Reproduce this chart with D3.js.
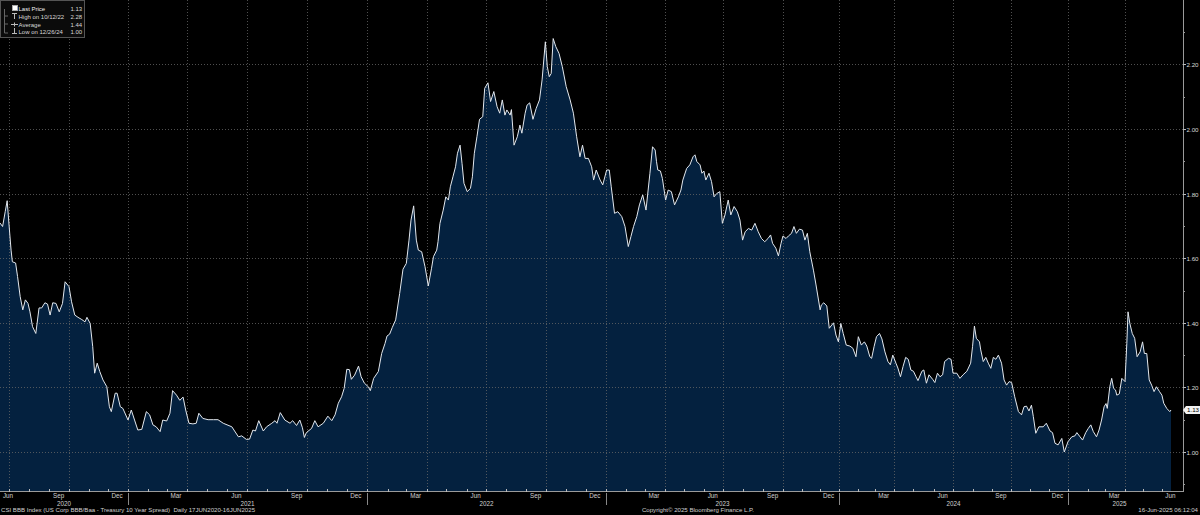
<!DOCTYPE html>
<html><head><meta charset="utf-8">
<script src="https://cdn.jsdelivr.net/npm/d3@7"></script>
<style>html,body{margin:0;padding:0;background:#000;overflow:hidden}</style>
</head><body><svg id="c" width="1200" height="515"></svg>
<script>
// ---------------- DATA ----------------
const dates = [
"2020-06-17","2020-06-21","2020-06-25","2020-06-28","2020-07-01","2020-07-04","2020-07-06","2020-07-11","2020-07-14","2020-07-18",
"2020-07-22","2020-07-26","2020-07-30","2020-08-02","2020-08-06","2020-08-11","2020-08-16","2020-08-20","2020-08-25","2020-08-29",
"2020-09-02","2020-09-06","2020-09-11","2020-09-16","2020-09-21","2020-09-25","2020-10-01","2020-10-05","2020-10-10","2020-10-15",
"2020-10-21","2020-10-26","2020-10-29","2020-11-03","2020-11-07","2020-11-10","2020-11-14","2020-11-18","2020-11-23","2020-11-29",
"2020-12-03","2020-12-06","2020-12-12","2020-12-15","2020-12-20","2020-12-24",
"2021-01-01","2021-01-06","2021-01-11","2021-01-16","2021-01-22","2021-01-29","2021-02-03","2021-02-08","2021-02-13","2021-02-19",
"2021-02-23","2021-03-01","2021-03-06","2021-03-10","2021-03-16","2021-03-21","2021-03-26","2021-03-30","2021-04-04","2021-04-10",
"2021-04-15","2021-04-19","2021-04-25","2021-05-03","2021-05-11","2021-05-18","2021-05-26","2021-06-08","2021-06-18","2021-06-23",
"2021-06-30","2021-07-05","2021-07-10","2021-07-14","2021-07-19","2021-07-26","2021-07-31","2021-08-08","2021-08-13","2021-08-16",
"2021-08-21","2021-08-28","2021-09-05","2021-09-09","2021-09-15","2021-09-20","2021-09-24","2021-09-27","2021-09-30","2021-10-08",
"2021-10-13","2021-10-18","2021-10-26","2021-11-02","2021-11-08","2021-11-13","2021-11-18","2021-11-23","2021-11-27","2021-12-01",
"2021-12-05","2021-12-08","2021-12-13","2021-12-19","2021-12-23","2021-12-28",
"2022-01-03","2022-01-06","2022-01-11","2022-01-18","2022-01-23","2022-01-28","2022-01-31","2022-02-04","2022-02-08","2022-02-13",
"2022-02-19","2022-02-24","2022-03-01","2022-03-05","2022-03-08","2022-03-12","2022-03-16","2022-03-19","2022-03-24","2022-03-29",
"2022-04-03","2022-04-08","2022-04-11","2022-04-16","2022-04-18","2022-04-21","2022-04-26","2022-04-30","2022-05-04","2022-05-07",
"2022-05-11","2022-05-15","2022-05-18","2022-05-22","2022-05-25","2022-05-28","2022-06-02","2022-06-07","2022-06-10","2022-06-13",
"2022-06-17","2022-06-21","2022-06-26","2022-06-29","2022-07-04","2022-07-08","2022-07-13","2022-07-18","2022-07-22","2022-07-26",
"2022-07-30","2022-08-02","2022-08-07","2022-08-09","2022-08-13","2022-08-18","2022-08-22","2022-08-25","2022-08-30","2022-09-02",
"2022-09-06","2022-09-11","2022-09-16","2022-09-21","2022-09-25","2022-09-30","2022-10-03","2022-10-06","2022-10-09","2022-10-12",
"2022-10-16","2022-10-21","2022-10-26","2022-11-01","2022-11-07","2022-11-12","2022-11-17","2022-11-22","2022-11-26","2022-11-30",
"2022-12-05","2022-12-10","2022-12-13","2022-12-17","2022-12-23","2022-12-27",
"2023-01-02","2023-01-06","2023-01-09","2023-01-14","2023-01-19","2023-01-25","2023-01-30","2023-02-04","2023-02-08","2023-02-12",
"2023-02-17","2023-02-21","2023-02-26","2023-03-03","2023-03-09","2023-03-13","2023-03-17","2023-03-19","2023-03-21","2023-03-25",
"2023-03-28","2023-04-02","2023-04-06","2023-04-11","2023-04-16","2023-04-22","2023-04-26","2023-04-29","2023-05-05","2023-05-10",
"2023-05-15","2023-05-18","2023-05-21","2023-05-26","2023-05-29","2023-06-01","2023-06-04","2023-06-09","2023-06-13","2023-06-17",
"2023-06-21","2023-06-26","2023-06-30","2023-07-04","2023-07-09","2023-07-13","2023-07-18","2023-07-23","2023-07-27","2023-07-31",
"2023-08-04","2023-08-09","2023-08-14","2023-08-19","2023-08-24","2023-08-29","2023-09-03","2023-09-08","2023-09-12","2023-09-15",
"2023-09-20","2023-09-24","2023-09-28","2023-10-01","2023-10-06","2023-10-10","2023-10-15","2023-10-19","2023-10-23","2023-10-28",
"2023-11-02","2023-11-06","2023-11-10","2023-11-14","2023-11-20","2023-11-24","2023-12-01","2023-12-03","2023-12-07","2023-12-12",
"2023-12-16","2023-12-23","2023-12-27","2023-12-31",
"2024-01-04","2024-01-08","2024-01-13","2024-01-19","2024-01-24","2024-01-29","2024-02-02","2024-02-07","2024-02-12","2024-02-16",
"2024-02-21","2024-02-24","2024-02-28","2024-03-03","2024-03-08","2024-03-12","2024-03-17","2024-03-22","2024-03-26","2024-03-30",
"2024-04-04","2024-04-07","2024-04-11","2024-04-15","2024-04-19","2024-04-23","2024-04-27","2024-05-01","2024-05-05","2024-05-08",
"2024-05-14","2024-05-17","2024-05-21","2024-05-25","2024-05-31","2024-06-03","2024-06-07","2024-06-11","2024-06-15","2024-06-18",
"2024-06-24","2024-06-28","2024-07-01","2024-07-07","2024-07-12","2024-07-17","2024-07-23","2024-07-29","2024-08-01","2024-08-04",
"2024-08-07","2024-08-12","2024-08-14","2024-08-18","2024-08-22","2024-08-26","2024-08-30","2024-09-03","2024-09-07","2024-09-11",
"2024-09-16","2024-09-20","2024-09-24","2024-09-28","2024-10-02","2024-10-07","2024-10-13","2024-10-18","2024-10-22","2024-10-26",
"2024-10-30","2024-11-03","2024-11-06","2024-11-10","2024-11-15","2024-11-22","2024-11-27","2024-12-03","2024-12-07","2024-12-11",
"2024-12-16","2024-12-22","2024-12-26",
"2025-01-01","2025-01-07","2025-01-12","2025-01-15","2025-01-20","2025-01-24","2025-01-29","2025-02-02","2025-02-06","2025-02-10",
"2025-02-15","2025-02-19","2025-02-23","2025-02-27","2025-03-02","2025-03-04","2025-03-08","2025-03-11","2025-03-14","2025-03-17",
"2025-03-19","2025-03-23","2025-03-27","2025-04-01","2025-04-04","2025-04-06","2025-04-09","2025-04-13","2025-04-17","2025-04-21",
"2025-04-26","2025-04-30","2025-05-03","2025-05-07","2025-05-11","2025-05-15","2025-05-19","2025-05-23","2025-05-28","2025-06-01",
"2025-06-04","2025-06-09","2025-06-14","2025-06-16"
];
const spread = [
1.709,1.698,1.744,1.778,1.70,1.625,1.589,1.585,1.543,1.481,
1.44,1.471,1.46,1.434,1.388,1.367,1.446,1.446,1.462,1.458,
1.424,1.462,1.46,1.434,1.46,1.527,1.512,1.465,1.424,1.417,
1.41,1.403,1.417,1.398,1.326,1.244,1.275,1.249,1.223,1.202,
1.14,1.125,1.182,1.182,1.14,1.135,
1.099,1.13,1.099,1.068,1.07,1.125,1.115,1.084,1.078,1.063,
1.099,1.096,1.12,1.19,1.176,1.16,1.17,1.13,1.089,1.087,
1.089,1.12,1.104,1.10,1.10,1.10,1.089,1.078,1.047,1.05,
1.039,1.04,1.068,1.065,1.097,1.065,1.078,1.089,1.097,1.089,
1.122,1.099,1.089,1.097,1.082,1.099,1.075,1.045,1.06,1.073,
1.097,1.078,1.089,1.111,1.097,1.115,1.151,1.171,1.197,1.256,
1.255,1.225,1.238,1.266,1.233,1.213,
1.202,1.19,1.228,1.249,1.305,1.336,1.359,1.365,1.386,1.409,
1.491,1.566,1.584,1.656,1.718,1.762,1.656,1.625,1.62,1.574,
1.514,1.569,1.605,1.625,1.651,1.708,1.749,1.79,1.78,1.821,
1.852,1.883,1.925,1.95,1.894,1.832,1.806,1.816,1.852,1.925,
1.976,2.03,2.038,2.126,2.143,2.085,2.116,2.069,2.049,2.09,
2.043,2.059,2.043,2.06,1.95,1.976,2.012,1.987,2.049,2.074,
2.081,2.03,2.064,2.09,2.152,2.27,2.193,2.162,2.172,2.28,
2.255,2.234,2.193,2.131,2.09,2.049,1.976,1.914,1.95,1.909,
1.909,1.883,1.842,1.873,1.842,1.827,
1.873,1.873,1.821,1.739,1.744,1.729,1.698,1.636,1.667,1.698,
1.729,1.765,1.796,1.749,1.863,1.945,1.935,1.90,1.873,1.87,
1.847,1.78,1.811,1.806,1.765,1.79,1.811,1.842,1.878,1.889,
1.914,1.92,1.899,1.889,1.863,1.87,1.842,1.863,1.837,1.79,
1.80,1.806,1.708,1.734,1.78,1.734,1.76,1.744,1.718,1.656,
1.682,1.692,1.687,1.708,1.682,1.661,1.651,1.661,1.672,1.646,
1.631,1.607,1.646,1.669,1.661,1.669,1.677,1.698,1.677,1.69,
1.687,1.656,1.677,1.62,1.563,1.52,1.44,1.455,1.462,1.452,
1.383,1.40,1.362,1.341,
1.398,1.367,1.331,1.328,1.321,1.295,1.357,1.331,1.341,1.328,
1.295,1.29,1.326,1.357,1.367,1.35,1.31,1.28,1.27,1.30,
1.275,1.26,1.233,1.265,1.293,1.287,1.254,1.25,1.233,1.221,
1.25,1.254,1.213,1.239,1.224,1.215,1.244,1.233,1.239,1.28,
1.29,1.287,1.244,1.244,1.228,1.239,1.25,1.275,1.326,1.39,
1.352,1.341,1.316,1.28,1.293,1.275,1.259,1.293,1.287,1.30,
1.275,1.223,1.207,1.218,1.215,1.171,1.125,1.115,1.14,1.142,
1.127,1.145,1.11,1.058,1.078,1.078,1.089,1.065,1.06,1.027,
1.022,1.042,1.00,
1.032,1.047,1.05,1.06,1.047,1.037,1.06,1.073,1.084,1.063,
1.047,1.068,1.099,1.14,1.15,1.135,1.202,1.228,1.197,1.192,
1.176,1.18,1.228,1.218,1.336,1.434,1.398,1.367,1.352,1.295,
1.31,1.341,1.305,1.305,1.223,1.207,1.187,1.202,1.187,1.176,
1.151,1.135,1.125,1.13
];
const yTicks = [1.00, 1.20, 1.40, 1.60, 1.80, 2.00, 2.20];
const yMinorTicks = [0.90, 1.10, 1.30, 1.50, 1.70, 1.90, 2.10, 2.30];
const shownMonths = ["Mar", "Jun", "Sep", "Dec"];
const legendLabels = ["Last Price", "High on 10/12/22", "Average", "Low on 12/26/24"];
const legendValues = ["1.13", "2.28", "1.44", "1.00"];
const lastPrice = 1.13;
const footerLeft = "CSI BBB Index (US Corp BBB/Baa - Treasury 10 Year Spread)  Daily 17JUN2020-16JUN2025";
const footerMid = "Copyright\u00A9 2025 Bloomberg Finance L.P.";
const footerRight = "16-Jun-2025 06:12:04";

// ---------------- LAYOUT ----------------
const parse = d3.timeParse("%Y-%m-%d");
const data = dates.map((d, i) => ({ date: parse(d), value: spread[i] }));
const plotRight = 1183, axisY = 491;
const FONT = "'Liberation Sans', Arial, sans-serif";
// time axis calibration (Bloomberg's trading-day spacing), quarter anchors
const calibDates = ["2020-06-17","2020-10-01","2021-01-01","2021-04-01","2021-07-01","2021-10-01","2022-01-01",
  "2022-04-01","2022-07-01","2022-10-01","2023-01-01","2023-04-01","2023-07-01","2023-10-01","2024-01-01",
  "2024-04-01","2024-07-01","2024-10-01","2025-01-01","2025-04-01","2025-06-16"].map(parse);
const calibPx = [0,69,128,187,247,307,367,427,486,546,606,665,723,783,839,894,953,1011,1068,1125,1171];
const x = d3.scaleTime().domain(calibDates).range(calibPx);
const y = d3.scaleLinear().domain([1.0, 2.2]).range([452, 64.4]);
const startD = calibDates[0], endD = calibDates[calibDates.length - 1];

const svg = d3.select("#c");
svg.append("rect").attr("width", 1200).attr("height", 515).attr("fill", "#000");

// area
svg.append("path").datum(data)
  .attr("d", d3.area().x(d => x(d.date)).y0(axisY).y1(d => y(d.value)))
  .attr("fill", "#04213f");

// grid
const grid = svg.append("g").attr("stroke", "#6a6a6a").attr("stroke-opacity", 0.75)
  .attr("stroke-dasharray", "1,2").attr("stroke-width", 1);
yTicks.forEach(v => grid.append("line").attr("x1", 0).attr("x2", plotRight)
  .attr("y1", Math.round(y(v)) + 0.5).attr("y2", Math.round(y(v)) + 0.5));
d3.timeMonth.every(3).range(d3.timeDay.offset(startD, 1), endD).forEach(d => {
  const xx = Math.round(x(d)) + 0.5;
  grid.append("line").attr("x1", xx).attr("x2", xx).attr("y1", 0).attr("y2", axisY);
});

// line
svg.append("path").datum(data)
  .attr("d", d3.line().x(d => x(d.date)).y(d => y(d.value)))
  .attr("fill", "none").attr("stroke", "#e3e8ee").attr("stroke-width", 1)
  .attr("stroke-linejoin", "round");

// right axis
const ra = svg.append("g");
ra.append("line").attr("x1", plotRight + 0.5).attr("x2", plotRight + 0.5).attr("y1", 0).attr("y2", axisY)
  .attr("stroke", "#9a9a9a");
yTicks.forEach(v => {
  const yy = Math.round(y(v)) + 0.5;
  ra.append("line").attr("x1", plotRight).attr("x2", plotRight + 3).attr("y1", yy).attr("y2", yy).attr("stroke", "#bbb");
  ra.append("text").attr("x", plotRight + 3.5).attr("y", yy + 2.3).text(d3.format(".2f")(v))
    .attr("font-family", FONT).attr("font-size", 6.2).attr("fill", "#d8d8d8");
});
yMinorTicks.forEach(v => {
  const yy = Math.round(y(v)) + 0.5;
  ra.append("line").attr("x1", plotRight).attr("x2", plotRight + 2).attr("y1", yy).attr("y2", yy).attr("stroke", "#999");
});
// last price tag
const ly = y(lastPrice);
ra.append("path").attr("d", `M${plotRight},${ly} L${plotRight + 3},${ly - 4} L1200,${ly - 4} L1200,${ly + 4} L${plotRight + 3},${ly + 4} Z`)
  .attr("fill", "#f2f2f2");
ra.append("text").attr("x", plotRight + 4).attr("y", ly + 2.3).text(lastPrice.toFixed(2))
  .attr("font-family", FONT).attr("font-size", 6.2).attr("fill", "#000");

// bottom axis
const ba = svg.append("g");
ba.append("line").attr("x1", 0).attr("x2", plotRight + 1).attr("y1", axisY + 0.5).attr("y2", axisY + 0.5).attr("stroke", "#9a9a9a");
d3.timeMonth.range(d3.timeDay.offset(startD, 1), endD).forEach(d => {
  const xx = Math.round(x(d)) + 0.5;
  ba.append("line").attr("x1", xx).attr("x2", xx).attr("y1", axisY - 2).attr("y2", axisY + 1).attr("stroke", "#bbb");
});
const fmtMonth = d3.timeFormat("%b");
d3.timeMonth.range(d3.timeMonth.floor(startD), endD).forEach(d => {
  const m = fmtMonth(d);
  if (!shownMonths.includes(m)) return;
  let xx = x(d3.timeDay.offset(d, 14));
  xx = Math.max(8, Math.min(1172, xx));
  ba.append("text").attr("x", xx).attr("y", axisY + 6.8).attr("text-anchor", "middle").text(m)
    .attr("font-family", FONT).attr("font-size", 6.3).attr("fill", "#d0d0d0");
});
d3.timeYear.range(d3.timeYear.floor(startD), endD).forEach(d => {
  const a = Math.max(0, x(d)), b = Math.min(calibPx[calibPx.length - 1], x(d3.timeYear.offset(d, 1)));
  ba.append("text").attr("x", (a + b) / 2).attr("y", axisY + 14.5).attr("text-anchor", "middle").text(d.getFullYear())
    .attr("font-family", FONT).attr("font-size", 6.3).attr("fill", "#d0d0d0");
  if (d > startD) {
    const xx = Math.round(x(d)) + 0.5;
    ba.append("line").attr("x1", xx).attr("x2", xx).attr("y1", axisY + 2).attr("y2", axisY + 14).attr("stroke", "#888");
  }
});

// footer
const ft = svg.append("g").attr("font-family", FONT).attr("font-size", 6.1).attr("fill", "#d0d0d0");
ft.append("text").attr("x", 1).attr("y", 512).text(footerLeft).style("white-space", "pre");
ft.append("text").attr("x", 698).attr("y", 512).attr("text-anchor", "middle").text(footerMid);
ft.append("text").attr("x", 1198).attr("y", 512).attr("text-anchor", "end").text(footerRight);

// legend
const lg = svg.append("g");
lg.append("rect").attr("x", 0.5).attr("y", 0.5).attr("width", 84).attr("height", 37)
  .attr("fill", "#0b0b0b").attr("stroke", "#555");
lg.append("path").attr("d", "M4.5,9 V33 M4.5,16 H8 M4.5,24 H8 M4.5,33 H8").attr("stroke", "#666").attr("fill", "none");
lg.append("rect").attr("x", 12.5).attr("y", 5.5).attr("width", 5).attr("height", 5).attr("fill", "#fff").attr("stroke", "#aaa");
lg.append("path").attr("d", "M12,13.5 H17 M14.5,13.5 V19").attr("stroke", "#bbb").attr("fill", "none");
lg.append("path").attr("d", "M11,24.5 H18 M14.5,22.5 V26.5").attr("stroke", "#bbb").attr("fill", "none");
lg.append("path").attr("d", "M14.5,28 V33.5 M12,33.5 H17").attr("stroke", "#bbb").attr("fill", "none");
const rowY = [11, 18.5, 26.5, 34];
legendLabels.forEach((t, i) => {
  lg.append("text").attr("x", 18.5).attr("y", rowY[i]).text(t)
    .attr("font-family", FONT).attr("font-size", 6).attr("fill", i === 0 ? "#f0f0f0" : "#d8d8d8");
  lg.append("text").attr("x", 70.5).attr("y", rowY[i]).text(legendValues[i])
    .attr("font-family", FONT).attr("font-size", 6).attr("fill", "#d8d8d8");
});
</script>
</body></html>
